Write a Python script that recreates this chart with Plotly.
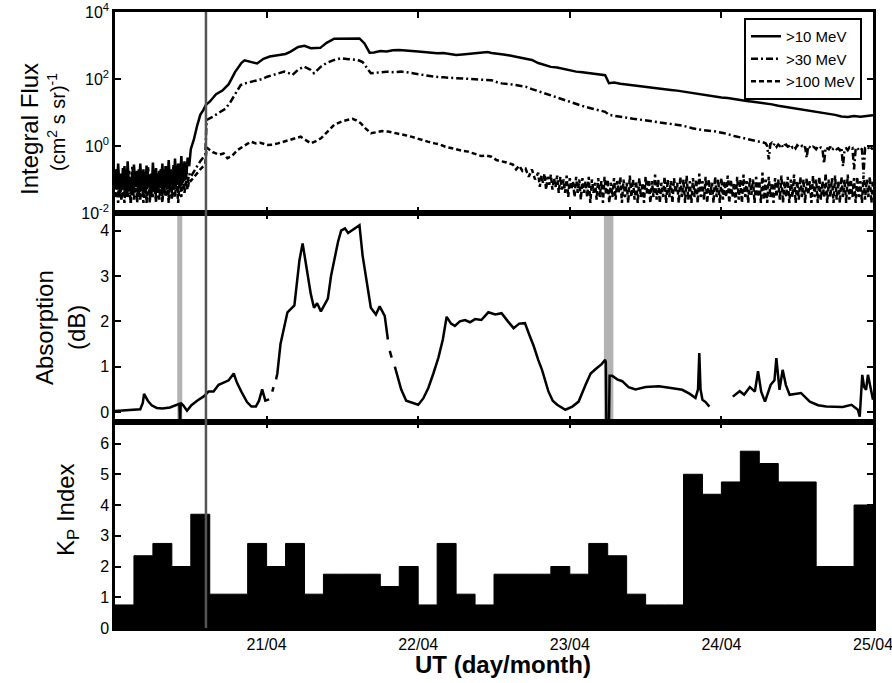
import plotly.graph_objects as go

# ---------------- DATA (hours since 20/04 00:00 UT) ----------------
def grid(start, step, values):
    return [start + step * i for i in range(len(values))]

# quiet-time background (00-12 UT on 20/04), quarter-hour cadence
p10_bg_flux = [0.2, 0.05, 0.3, 0.04, 0.15, 0.06, 0.25, 0.03, 0.35, 0.05, 0.12, 0.04, 0.28, 0.06, 0.18, 0.03,
               0.3, 0.05, 0.2, 0.04, 0.26, 0.07, 0.14, 0.03, 0.32, 0.05, 0.22, 0.04, 0.18, 0.06, 0.3, 0.04,
               0.25, 0.05, 0.38, 0.06, 0.2, 0.05, 0.42, 0.07, 0.3, 0.06, 0.5, 0.08, 0.35, 0.1, 0.45, 0.25]
p30_bg_flux = [0.06, 0.2, 0.03, 0.15, 0.025, 0.22, 0.04, 0.12, 0.03, 0.18, 0.02, 0.25, 0.05, 0.1, 0.03, 0.2,
               0.025, 0.16, 0.04, 0.12, 0.02, 0.24, 0.03, 0.15, 0.05, 0.2, 0.025, 0.13, 0.04, 0.22, 0.03, 0.17,
               0.05, 0.25, 0.03, 0.14, 0.04, 0.28, 0.05, 0.18, 0.04, 0.3, 0.06, 0.2, 0.05, 0.25, 0.08, 0.15]
p100_bg_flux = [0.03, 0.08, 0.02, 0.1, 0.025, 0.06, 0.02, 0.12, 0.03, 0.07, 0.02, 0.09, 0.025, 0.11, 0.02, 0.08,
                0.03, 0.1, 0.02, 0.07, 0.025, 0.12, 0.02, 0.09, 0.03, 0.08, 0.02, 0.11, 0.025, 0.07, 0.02, 0.1,
                0.03, 0.09, 0.02, 0.12, 0.025, 0.08, 0.03, 0.11, 0.02, 0.1, 0.03, 0.13, 0.04, 0.09, 0.05, 0.1]

# event (hour, flux) pairs
p10_event = [(12, 0.8), (12.5, 1.6), (13, 4), (13.5, 8.5), (14, 12), (14.4, 17), (15, 21), (16, 35),
             (17, 45), (18, 70), (19, 160), (20, 300), (20.5, 360), (21.5, 320), (22.5, 290),
             (23.5, 400), (24.5, 470), (26, 520), (27, 560), (27.8, 660), (29, 900), (30, 980),
             (31, 830), (32.5, 850), (33.5, 1200), (34.7, 1600), (36, 1620), (37.5, 1600),
             (38.7, 1620), (39.5, 1150), (40.3, 610), (41, 620), (42, 680), (43, 660), (44, 720),
             (45, 740), (46, 700), (47, 690), (48, 660), (49, 630), (50, 620), (51, 590), (52, 600),
             (53, 560), (54, 520), (55, 540), (56, 560), (57, 600), (58, 620), (59, 640), (59.6, 600),
             (60.5, 580), (61.5, 540), (62.5, 500), (64, 440), (65, 410), (66, 370), (67, 300),
             (68, 260), (69, 230), (70, 220), (71, 200), (72, 180), (73, 166), (74, 160), (75, 150),
             (76, 140), (77, 135), (77.6, 130), (78.2, 75), (79, 78), (80, 72), (81, 68), (82, 64),
             (83, 60), (84, 57), (85, 55), (86, 52), (87, 50), (88, 47), (89, 45), (90, 42), (91, 38),
             (92, 36), (93, 34), (94, 32), (95, 30), (96, 28), (97, 27), (98, 25), (99, 24), (100, 22),
             (101, 21), (102, 20), (103, 19), (104, 17.5), (105, 16), (106, 15), (107, 14), (108, 13),
             (109, 12), (110, 11.5), (111, 10.5), (112, 10), (113, 9.2), (114, 8.5), (115, 7.6),
             (116, 7.4), (117, 7.8), (118, 7.5), (119, 7.9), (120, 8.3)]

p30_event = [(12, 0.12), (12.5, 0.18), (13, 0.25), (13.5, 0.35), (14, 0.45), (14.3, 0.55), (14.5, 6.0),
             (15, 6.6), (15.5, 7.5), (16.7, 10.5), (17.5, 13), (18.3, 21), (19.2, 40), (19.9, 66),
             (20.7, 75), (21.5, 83), (22.5, 90), (23.3, 100), (24.1, 117), (25, 130), (25.8, 150),
             (26.8, 166), (27.5, 150), (28.1, 132), (29, 190), (29.9, 234), (31, 186), (31.5, 148),
             (32.6, 234), (33.5, 300), (34.5, 360), (35.8, 417), (37, 390), (38.4, 372), (39.2, 320),
             (40, 200), (40.5, 148), (41.5, 155), (43, 165), (44, 160), (45.3, 166), (46.5, 155),
             (48, 140), (49.5, 125), (50.6, 117), (52, 112), (53.5, 106), (55, 102), (55.9, 100),
             (57, 98), (58.5, 94), (59.6, 92), (60.5, 80), (61.2, 74), (62.5, 70), (64, 63), (65, 59),
             (66, 50), (67.5, 40), (69, 32), (70.3, 26), (71.5, 22), (73, 18), (74.3, 15), (75.6, 13),
             (77, 11), (77.6, 10.5), (78.2, 8.5), (79, 8.0), (80.5, 7.2), (82, 6.5), (83.5, 6.0),
             (85, 5.5), (86.5, 5.0), (88, 4.4), (89, 4.2), (90, 4.0), (91.4, 3.4), (93, 3.0),
             (95.1, 2.7), (96.5, 2.4), (98, 2.0), (99, 1.8), (100.4, 1.5), (101.5, 1.4), (102.5, 1.3)]
# noisy tail from 103 UT on, quarter-hour cadence
p30_tail_flux = [1.2, 1.0, 0.4, 1.15, 1.25, 1.05, 1.2, 0.95, 1.1, 1.0, 1.15, 0.9, 1.05, 1.1, 0.95, 1.0,
                 1.1, 0.9, 1.0, 0.85, 1.05, 0.95, 0.9, 1.0, 0.85, 0.95, 0.45, 1.0, 0.9, 0.85, 0.95, 0.9,
                 0.8, 0.95, 0.85, 0.9, 0.8, 0.3, 0.9, 0.85, 0.8, 0.95, 0.75, 0.85, 0.9, 0.8, 0.85, 0.75,
                 0.9, 0.25, 0.8, 0.85, 0.75, 0.9, 0.8, 0.85, 0.2, 0.8, 0.9, 0.75, 0.85, 0.8, 0.15, 0.85,
                 0.8, 0.9, 0.75, 0.85, 0.8]

p100_event = [(12, 0.09), (12.5, 0.12), (13, 0.15), (13.5, 0.2), (14, 0.25), (14.3, 0.3), (14.5, 0.9),
              (15, 0.75), (15.5, 0.65), (16.5, 0.55), (17.2, 0.6), (17.8, 0.43), (18.5, 0.5),
              (19.4, 0.76), (20.5, 1.0), (21.5, 1.35), (22.3, 1.2), (23, 1.25), (24.1, 1.07), (25, 1.1),
              (25.8, 1.2), (26.5, 1.3), (27.3, 1.5), (28.3, 1.6), (29.4, 1.9), (30.2, 1.5), (31, 1.2),
              (31.8, 1.4), (32.6, 1.7), (33.5, 2.5), (34.7, 4.3), (36, 5.5), (37, 6.0), (37.6, 6.5),
              (38.2, 5.8), (38.9, 4.8), (39.7, 3.3), (40.5, 2.4), (41.5, 2.6), (42.3, 2.8), (43.2, 2.7),
              (44, 2.55), (45, 2.3), (46, 2.1), (46.9, 1.9), (47.7, 1.7), (48.5, 1.5), (49.5, 1.35),
              (50.6, 1.2), (51.5, 1.1), (52.3, 0.95), (53, 0.9), (54, 0.8), (55, 0.72), (55.9, 0.68),
              (57, 0.58), (58, 0.5), (58.8, 0.52), (59.6, 0.48), (60.4, 0.38), (61.2, 0.34), (62, 0.32),
              (63, 0.28), (63.5, 0.2), (64, 0.26), (64.5, 0.18), (65, 0.21), (65.5, 0.12), (66, 0.2),
              (66.5, 0.1)]
# noisy tail from 67 UT to the end, quarter-hour cadence
p100_tail_flux = [0.16, 0.06, 0.13, 0.08, 0.15, 0.05, 0.12, 0.07, 0.14, 0.05, 0.11, 0.06, 0.13, 0.04, 0.12, 0.05,
                  0.1, 0.04, 0.13, 0.03, 0.11, 0.05, 0.09, 0.03, 0.12, 0.04, 0.1, 0.025, 0.11, 0.04, 0.09, 0.03,
                  0.12, 0.02, 0.1, 0.04, 0.08, 0.025, 0.11, 0.03, 0.09, 0.02, 0.12, 0.035, 0.1, 0.02, 0.08, 0.03,
                  0.11, 0.025, 0.09, 0.04, 0.12, 0.02, 0.1, 0.03, 0.08, 0.02, 0.13, 0.03, 0.1, 0.025, 0.09, 0.02,
                  0.11, 0.03, 0.08, 0.02, 0.12, 0.035, 0.1, 0.02, 0.09, 0.03, 0.14, 0.025, 0.1, 0.02, 0.08, 0.03,
                  0.12, 0.02, 0.1, 0.03, 0.09, 0.02, 0.11, 0.04, 0.08, 0.02, 0.12, 0.03, 0.1, 0.02, 0.13, 0.025,
                  0.09, 0.02, 0.11, 0.03, 0.1, 0.02, 0.15, 0.03, 0.09, 0.025, 0.12, 0.02, 0.1, 0.035, 0.08, 0.02,
                  0.12, 0.03, 0.1, 0.02, 0.11, 0.025, 0.09, 0.03, 0.13, 0.02, 0.1, 0.03, 0.08, 0.02, 0.12, 0.025,
                  0.1, 0.02, 0.14, 0.03, 0.09, 0.02, 0.11, 0.035, 0.1, 0.02, 0.12, 0.03, 0.09, 0.02, 0.16, 0.025,
                  0.1, 0.02, 0.12, 0.03, 0.08, 0.02, 0.11, 0.03, 0.1, 0.025, 0.13, 0.02, 0.09, 0.03, 0.12, 0.02,
                  0.1, 0.03, 0.14, 0.02, 0.09, 0.025, 0.12, 0.03, 0.1, 0.02, 0.11, 0.035, 0.09, 0.02, 0.13, 0.03,
                  0.1, 0.02, 0.12, 0.025, 0.09, 0.03, 0.15, 0.02, 0.1, 0.03, 0.11, 0.02, 0.13, 0.025, 0.09, 0.02,
                  0.12, 0.03, 0.1, 0.02, 0.14, 0.025, 0.1, 0.03, 0.11, 0.02, 0.12, 0.03, 0.09, 0.02, 0.13, 0.025,
                  0.1, 0.03, 0.12, 0.02, 0.1]

# riometer absorption (hour, dB); None = data gap
absorption = [(0, 0.02), (1, 0.03), (2, 0.04), (3, 0.05), (4, 0.06), (4.4, 0.2), (4.6, 0.4), (5.2, 0.25),
              (5.8, 0.15), (6.6, 0.09), (7.5, 0.08), (8.7, 0.1), (9.3, 0.13), (9.8, 0.16), (10.2, 0.18),
              (10.3, -0.3), (10.4, 0.2), (10.8, 0.15), (11.4, 0.03), (12.1, 0.15), (13, 0.25), (14.1, 0.35),
              (14.8, 0.45), (15.6, 0.45), (16.4, 0.6), (17.2, 0.65), (18, 0.7), (18.8, 0.85), (19.3, 0.65),
              (20, 0.45), (20.9, 0.22), (21.6, 0.12), (22.3, 0.12), (22.8, 0.25), (23.3, 0.5), (23.8, 0.25),
              (24.4, 0.28), (24.6, None), (24.9, 0.45), (25.1, 0.55), (25.3, None), (25.5, 0.72),
              (25.7, 0.85), (26.2, 1.5), (26.8, 1.9), (27.3, 2.2), (28.4, 2.35), (28.8, 2.8), (29.2, 3.35),
              (29.7, 3.72), (30.4, 3.15), (31, 2.6), (31.5, 2.3), (32, 2.4), (32.6, 2.22), (33.1, 2.35),
              (33.7, 2.5), (34.2, 3.0), (34.7, 3.35), (35.3, 3.75), (35.8, 4.0), (36.4, 4.05), (36.9, 3.95),
              (37.4, 4.0), (37.9, 4.05), (38.3, 4.1), (38.7, 4.12), (39.2, 3.45), (40, 2.77), (40.5, 2.3),
              (41.3, 2.15), (41.9, 2.33), (42.7, 2.12), (43.2, 1.6), (43.35, None), (43.5, 1.35),
              (43.8, 1.2), (44.0, None), (44.3, 1.0), (45.3, 0.5), (46.1, 0.25), (47, 0.2), (48, 0.16),
              (48.8, 0.3), (49.6, 0.53), (50.4, 0.85), (51.2, 1.2), (51.9, 1.6), (52.5, 2.1), (53.2, 1.95),
              (53.8, 1.9), (54.6, 2.0), (55.4, 2.03), (56.2, 1.98), (57, 2.05), (58, 2.03), (59.1, 2.2),
              (60.2, 2.15), (61.2, 2.18), (62.2, 2.0), (63.1, 1.85), (64, 1.95), (64.9, 1.96), (65.6, 1.7),
              (66.3, 1.45), (67, 1.15), (67.6, 0.93), (68.6, 0.46), (69.3, 0.25), (70, 0.16), (71.3, 0.05),
              (72.4, 0.12), (73.4, 0.23), (74.5, 0.6), (75.3, 0.85), (76.1, 0.95), (77, 1.05), (77.6, 1.15),
              (77.7, 1.1), (77.8, -0.3), (78.2, -0.3), (78.3, 0.8), (78.7, 0.8), (79.5, 0.72), (80.3, 0.68),
              (81.3, 0.55), (82.4, 0.5), (84, 0.55), (86.1, 0.57), (88, 0.53), (89.8, 0.49), (91, 0.4),
              (91.9, 0.31), (92.3, 0.5), (92.5, 1.3), (92.7, 0.5), (93, 0.27), (93.5, 0.22), (94.1, 0.12),
              (95, None), (97.8, 0.34), (98.3, 0.4), (98.9, 0.46), (99.6, 0.38), (100.5, 0.55), (101.3, 0.45),
              (101.8, 0.9), (102.3, 0.45), (102.9, 0.23), (103.8, 0.6), (104.4, 0.7), (104.7, 1.19),
              (105.2, 0.49), (105.7, 0.93), (106.2, 0.6), (106.8, 0.38), (107.6, 0.4), (108.6, 0.42),
              (110, 0.23), (111.3, 0.15), (112.6, 0.12), (113.9, 0.12), (115.2, 0.11), (116.6, 0.16),
              (117.6, 0.05), (117.9, -0.1), (118.3, 0.82), (118.6, 0.55), (118.9, 0.49), (119.2, 0.82),
              (119.6, 0.5), (120, 0.27)]

# 3-hourly Kp index, 20/04 00 UT to 24/04 21 UT
kp_bin_start_hours = list(range(0, 120, 3))
kp_values = [0.75, 2.35, 2.75, 2.0, 3.7, 1.1, 1.1, 2.75, 2.0, 2.75,
             1.1, 1.75, 1.75, 1.75, 1.35, 2.0, 0.75, 2.75, 1.1, 0.75,
             1.75, 1.75, 1.75, 2.0, 1.75, 2.75, 2.35, 1.1, 0.75, 0.75,
             5.0, 4.35, 4.75, 5.75, 5.35, 4.75, 4.75, 2.0, 2.0, 4.0]

# markers
onset_hour = 14.4
gray_bands = [(9.85, 10.65), (77.4, 78.9)]

tick_hours = [24, 48, 72, 96, 120]
tick_labels = ["21/04", "22/04", "23/04", "24/04", "25/04"]
flux_tick_vals = [1e-2, 1, 1e2, 1e4]
flux_tick_text = ["10<sup>-2</sup>", "10<sup>0</sup>", "10<sup>2</sup>", "10<sup>4</sup>"]

# ---------------- BUILD ----------------
FONT = "Arial, Liberation Sans, sans-serif"
W, H = 892, 683
L, R, T, B = 115, 873, 12, 628


def px_x(px):
    return (px - L) / (R - L)


def px_y(py):
    return (B - py) / (B - T)


def unzip(pairs):
    return [p[0] for p in pairs], [p[1] for p in pairs]


bg_hours = grid(0, 0.25, p10_bg_flux)
p30_tail_hours = grid(103, 0.25, p30_tail_flux)
p100_tail_hours = grid(67, 0.25, p100_tail_flux)

fig = go.Figure()

t10, f10 = unzip(p10_event)
t30, f30 = unzip(p30_event)
t100, f100 = unzip(p100_event)

fig.add_trace(go.Scatter(x=bg_hours + t10, y=p10_bg_flux + f10, mode="lines", name=">10 MeV",
                         line=dict(color="black", width=2.5), xaxis="x", yaxis="y"))
fig.add_trace(go.Scatter(x=bg_hours + t30 + p30_tail_hours, y=p30_bg_flux + f30 + p30_tail_flux,
                         mode="lines", name=">30 MeV",
                         line=dict(color="black", width=2.5, dash="7px,3px,2px,3px"), xaxis="x", yaxis="y"))
fig.add_trace(go.Scatter(x=bg_hours + t100 + p100_tail_hours, y=p100_bg_flux + f100 + p100_tail_flux,
                         mode="lines", name=">100 MeV",
                         line=dict(color="black", width=2.5, dash="5px,3px"), xaxis="x", yaxis="y"))

ta, va = unzip(absorption)
fig.add_trace(go.Scatter(x=ta, y=va, mode="lines", showlegend=False, connectgaps=False,
                         line=dict(color="black", width=2.5), xaxis="x2", yaxis="y2"))

# Kp as a filled staircase (3-hour bins)
fig.add_trace(go.Scatter(x=kp_bin_start_hours + [120], y=kp_values + [kp_values[-1]],
                         mode="lines", line=dict(color="black", width=1, shape="hv"),
                         fill="tozeroy", fillcolor="black", showlegend=False,
                         xaxis="x3", yaxis="y3"))

axis_common = dict(showline=True, linecolor="black", linewidth=2.5, mirror="ticks",
                   ticks="inside", ticklen=6, tickwidth=2, tickcolor="black",
                   showgrid=False, zeroline=False, automargin=False, ticklabeloverflow="allow",
                   tickfont=dict(family=FONT, size=16, color="black"))

d_bot = (0, 206 / 616)
d_mid = (206 / 616, 415 / 616)
d_top = (415 / 616, 1)

xcommon = dict(axis_common, range=[0, 120], tickmode="array", tickvals=tick_hours, ticktext=tick_labels)

fig.update_layout(
    width=W, height=H,
    margin=dict(l=L, r=W - R, t=T, b=H - B, autoexpand=False),
    paper_bgcolor="white", plot_bgcolor="white",
    font=dict(family=FONT, color="black", size=16),
    xaxis=dict(xcommon, anchor="y", showticklabels=False),
    xaxis2=dict(xcommon, anchor="y2", showticklabels=False, matches="x"),
    xaxis3=dict(xcommon, anchor="y3", showticklabels=True, matches="x"),
    yaxis=dict(axis_common, domain=d_top, anchor="x", type="log", range=[-2, 4],
               tickmode="array", tickvals=flux_tick_vals, ticktext=flux_tick_text),
    yaxis2=dict(axis_common, domain=d_mid, anchor="x2", range=[-0.22, 4.39],
                tickmode="array", tickvals=[0, 1, 2, 3, 4]),
    yaxis3=dict(axis_common, domain=d_bot, anchor="x3", range=[0, 6.7],
                tickmode="array", tickvals=[0, 1, 2, 3, 4, 5, 6]),
    legend=dict(x=px_x(862), xanchor="right", y=px_y(18), yanchor="top",
                bgcolor="white", bordercolor="black", borderwidth=2,
                font=dict(family=FONT, size=15, color="black"), tracegroupgap=0),
    showlegend=True,
)

shapes = []
for x0, x1 in gray_bands:
    shapes.append(dict(type="rect", xref="x2", yref="y2 domain", x0=x0, x1=x1, y0=0, y1=1,
                       fillcolor="#b3b3b3", line=dict(width=0), layer="below"))
shapes.append(dict(type="line", xref="x", yref="paper", x0=onset_hour, x1=onset_hour, y0=0, y1=1,
                   line=dict(color="#555555", width=2.5), layer="above"))
fig.update_layout(shapes=shapes)

title_font = dict(family=FONT, size=24, color="black")
annots = [
    dict(text="Integral Flux", x=px_x(29), y=px_y(129)),
    dict(text="(cm<sup>2</sup> s sr)<sup>-1</sup>", x=px_x(56), y=px_y(122),
         font=dict(family=FONT, size=20, color="black")),
    dict(text="Absorption", x=px_x(44), y=px_y(328)),
    dict(text="(dB)", x=px_x(76), y=px_y(328)),
    dict(text="K<sub>P</sub> Index", x=px_x(67), y=px_y(510)),
]
for a in annots:
    fig.add_annotation(xref="paper", yref="paper", x=a["x"], y=a["y"], text=a["text"],
                       textangle=-90, showarrow=False, xanchor="center", yanchor="middle",
                       font=a.get("font", title_font))
fig.add_annotation(xref="paper", yref="paper", x=px_x(503), y=px_y(664), text="<b>UT (day/month)</b>",
                   showarrow=False, xanchor="center", yanchor="middle", font=title_font)

# remove the browser's default page margin so the figure sits at the window's top-left corner
fig.write_html("out.html", config={"displayModeBar": False},
               post_script="document.body.style.margin='0px'; document.body.style.overflow='hidden';")
